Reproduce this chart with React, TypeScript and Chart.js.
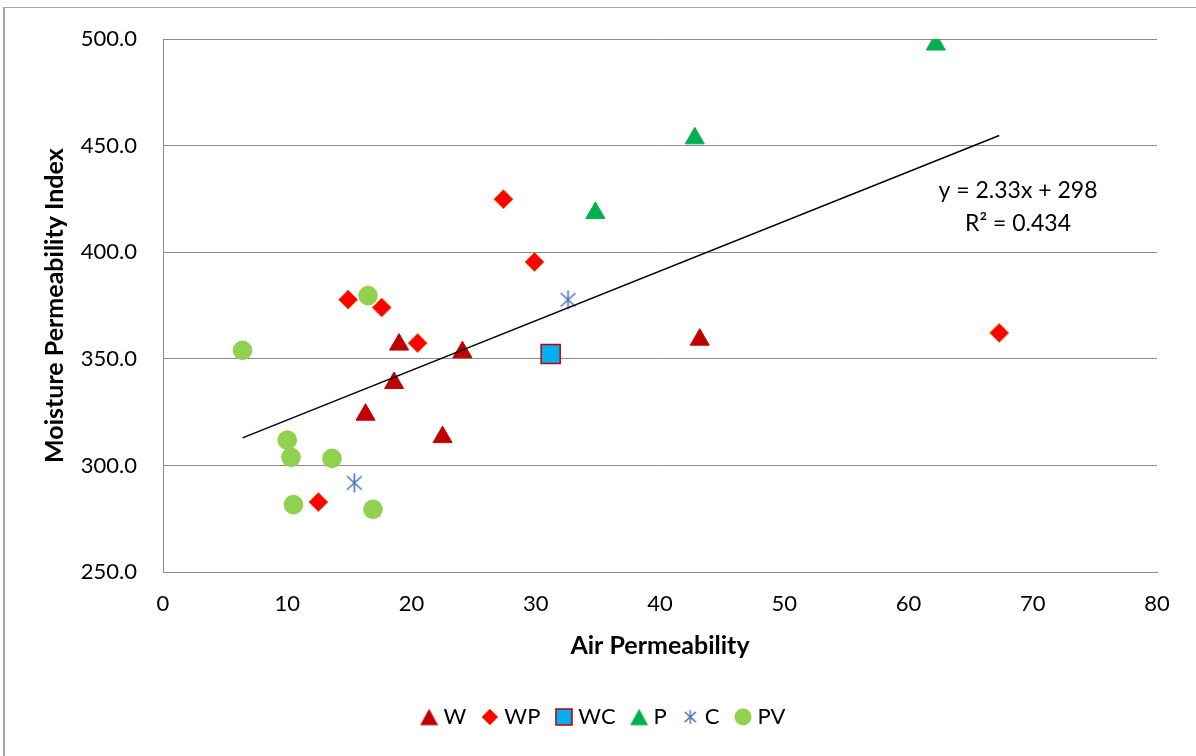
import { useEffect, useRef } from "react";
import { Chart, registerables } from "chart.js";

Chart.register(...registerables);

// Sample groups: air permeability (x) vs moisture permeability index (y)
const W_X = [16.3, 18.6, 19.0, 24.1, 22.5, 43.2];
const W_Y = [323.8, 338.7, 356.7, 353.1, 313.3, 359.0];

const WP_X = [27.4, 29.9, 14.9, 17.6, 20.5, 12.5, 67.3];
const WP_Y = [424.9, 395.5, 377.8, 374.1, 357.4, 282.8, 362.2];

const WC_X = [31.2];
const WC_Y = [352.3];

const P_X = [62.2, 42.8, 34.8];
const P_Y = [497.5, 453.5, 418.5];

const C_X = [32.6, 15.4];
const C_Y = [377.7, 291.8];

const PV_X = [6.4, 16.5, 10.0, 10.3, 13.6, 10.5, 16.9];
const PV_Y = [354.0, 379.7, 311.9, 303.8, 303.3, 281.6, 279.4];

// Linear fit reported for all samples
const TREND_SLOPE = 2.33;
const TREND_INTERCEPT = 298;
const EQUATION_TEXT = "y = 2.33x + 298";
const R2_TEXT = "R\u00B2 = 0.434";

const X_TITLE = "Air Permeability";
const Y_TITLE = "Moisture Permeability Index";
const X_MIN = 0;
const X_MAX = 80;
const X_STEP = 10;
const Y_MIN = 250;
const Y_MAX = 500;
const Y_STEP = 50;

const FONT = "Lato, 'Open Sans', sans-serif";
const GRID = "#8c8c8c";

const pts = (xs: number[], ys: number[]) => xs.map((x, i) => ({ x, y: ys[i] }));

type IconKind = "triangle" | "diamond" | "square" | "asterisk" | "circle";

// Small canvas glyphs used as point styles (asterisk) and legend swatches
function makeIcon(kind: IconKind, fill: string, stroke: string, size: number, lw = 1): HTMLCanvasElement {
  const c = document.createElement("canvas");
  c.width = size;
  c.height = size;
  const g = c.getContext("2d")!;
  const m = size / 2;
  g.fillStyle = fill;
  g.strokeStyle = stroke;
  g.lineWidth = lw;
  g.beginPath();
  if (kind === "triangle") {
    const h = size * 0.86;
    const top = (size - h) / 2;
    g.moveTo(m, top);
    g.lineTo(size - 0.5, top + h);
    g.lineTo(0.5, top + h);
    g.closePath();
    g.fill();
  } else if (kind === "diamond") {
    g.moveTo(m, 1);
    g.lineTo(size - 1, m);
    g.lineTo(m, size - 1);
    g.lineTo(1, m);
    g.closePath();
    g.fill();
    g.stroke();
  } else if (kind === "square") {
    g.rect(1, 1, size - 2, size - 2);
    g.fill();
    g.stroke();
  } else if (kind === "circle") {
    g.arc(m, m, m - 0.5, 0, Math.PI * 2);
    g.fill();
  } else {
    g.moveTo(m, 1);
    g.lineTo(m, size - 1);
    g.moveTo(size * 0.15, size * 0.18);
    g.lineTo(size * 0.85, size * 0.82);
    g.moveTo(size * 0.85, size * 0.18);
    g.lineTo(size * 0.15, size * 0.82);
    g.stroke();
  }
  return c;
}

const trendLabel = {
  id: "trendLabel",
  afterDatasetsDraw(chart: any) {
    const { ctx, chartArea } = chart;
    ctx.save();
    ctx.font = `23px ${FONT}`;
    ctx.fillStyle = "#000";
    ctx.textAlign = "center";
    ctx.textBaseline = "middle";
    ctx.fillText(EQUATION_TEXT, chartArea.right - 139, chartArea.top + 151);
    ctx.fillText(R2_TEXT, chartArea.right - 139, chartArea.top + 184);
    ctx.restore();
  },
};

// The legend box stops at the right padding; nudge it so the row sits under the page centre
const legendNudge = {
  id: "legendNudge",
  afterLayout(chart: any) {
    const lg = chart.legend;
    if (!lg) return;
    lg.left += 27;
    lg.right += 27;
  },
};

export default function App() {
  const ref = useRef<HTMLCanvasElement | null>(null);

  useEffect(() => {
    if (!ref.current) return;
    const allX = [...W_X, ...WP_X, ...WC_X, ...P_X, ...C_X, ...PV_X];
    const xLo = Math.min(...allX);
    const xHi = Math.max(...allX);
    const asterisk = makeIcon("asterisk", "#4a74b8", "#4a74b8", 21, 1.6);

    const legendIcons: HTMLCanvasElement[] = [
      makeIcon("triangle", "#c00000", "#c00000", 19),
      makeIcon("diamond", "#ff0000", "#e46c0a", 18),
      makeIcon("square", "#00b0f0", "#c00000", 18, 1.6),
      makeIcon("triangle", "#00b050", "#00b050", 19),
      makeIcon("asterisk", "#4a74b8", "#4a74b8", 16, 1.4),
      makeIcon("circle", "#92d050", "#92d050", 18),
    ];

    const chart = new Chart(ref.current, {
      type: "scatter",
      data: {
        datasets: [
          {
            label: "W",
            data: pts(W_X, W_Y),
            pointStyle: "triangle",
            pointRadius: 11,
            backgroundColor: "#c00000",
            borderColor: "#c00000",
            borderWidth: 1,
          },
          {
            label: "WP",
            data: pts(WP_X, WP_Y),
            pointStyle: "rectRot",
            pointRadius: 9.5,
            backgroundColor: "#ff0000",
            borderColor: "#e46c0a",
            borderWidth: 1,
          },
          {
            label: "WC",
            data: pts(WC_X, WC_Y),
            pointStyle: "rect",
            pointRadius: 13.5,
            backgroundColor: "#00b0f0",
            borderColor: "#c00000",
            borderWidth: 1.5,
          },
          {
            label: "P",
            data: pts(P_X, P_Y),
            pointStyle: "triangle",
            pointRadius: 11,
            backgroundColor: "#00b050",
            borderColor: "#00b050",
            borderWidth: 1,
          },
          {
            label: "C",
            data: pts(C_X, C_Y),
            pointStyle: asterisk,
            pointRadius: 10,
            backgroundColor: "#4a74b8",
            borderColor: "#4a74b8",
          },
          {
            label: "PV",
            data: pts(PV_X, PV_Y),
            pointStyle: "circle",
            pointRadius: 9.8,
            backgroundColor: "#92d050",
            borderColor: "#92d050",
            borderWidth: 0,
          },
          {
            type: "line",
            label: "Linear",
            data: [
              { x: xLo, y: TREND_SLOPE * xLo + TREND_INTERCEPT },
              { x: xHi, y: TREND_SLOPE * xHi + TREND_INTERCEPT },
            ],
            borderColor: "#000",
            borderWidth: 1.5,
            pointRadius: 0,
            fill: false,
            order: -1,
          } as any,
        ],
      },
      options: {
        animation: false,
        responsive: false,
        devicePixelRatio: 1,
        layout: { padding: { left: 0, top: 36, right: 39, bottom: 18 } },
        plugins: {
          tooltip: { enabled: false },
          legend: {
            position: "bottom",
            labels: {
              usePointStyle: true,
              boxWidth: 7,
              color: "#000",
              font: { family: FONT, size: 22 },
              padding: 20,
              generateLabels: (ch: any) =>
                Chart.defaults.plugins.legend.labels
                  .generateLabels(ch)
                  .filter((item: any) => item.text !== "Linear")
                  .map((item: any) => ({ ...item, pointStyle: legendIcons[item.datasetIndex] })),
            },
          },
        },
        scales: {
          x: {
            type: "linear",
            min: X_MIN,
            max: X_MAX,
            afterFit: (s: any) => {
              s.height = 114;
            },
            ticks: {
              stepSize: X_STEP,
              color: "#000",
              padding: 19,
              maxRotation: 0,
              font: { family: FONT, size: 22 },
            },
            grid: { display: false, drawTicks: false },
            border: { display: true, color: GRID, width: 1 },
            title: {
              display: true,
              text: X_TITLE,
              color: "#000",
              padding: { top: 0, bottom: 25 },
              font: { family: FONT, size: 25, weight: "bold" },
            },
          },
          y: {
            type: "linear",
            min: Y_MIN,
            max: Y_MAX,
            afterFit: (s: any) => {
              s.width = 163;
            },
            ticks: {
              stepSize: Y_STEP,
              color: "#000",
              padding: 26,
              font: { family: FONT, size: 22 },
              callback: (v: any) => Number(v).toFixed(1),
            },
            grid: { color: GRID, lineWidth: 1, drawTicks: false },
            border: { display: true, color: GRID, width: 1 },
            title: {
              display: true,
              text: Y_TITLE,
              color: "#000",
              padding: { top: 40, bottom: 0 },
              font: { family: FONT, size: 25, weight: "bold" },
            },
          },
        },
      },
      plugins: [trendLabel, legendNudge],
    });
    return () => chart.destroy();
  }, []);

  return (
    <div
      style={{
        position: "fixed",
        left: 0,
        top: 0,
        width: 1196,
        height: 756,
        overflow: "hidden",
        background: "#fff",
      }}
    >
      <div
        style={{
          position: "absolute",
          left: 3,
          top: 7,
          width: 1400,
          height: 1000,
          borderLeft: "2px solid #a6a6a6",
          borderTop: "1px solid #a6a6a6",
        }}
      />
      <canvas
        ref={ref}
        width={1196}
        height={756}
        style={{ position: "absolute", left: 0, top: 0, width: 1196, height: 756 }}
      />
    </div>
  );
}
